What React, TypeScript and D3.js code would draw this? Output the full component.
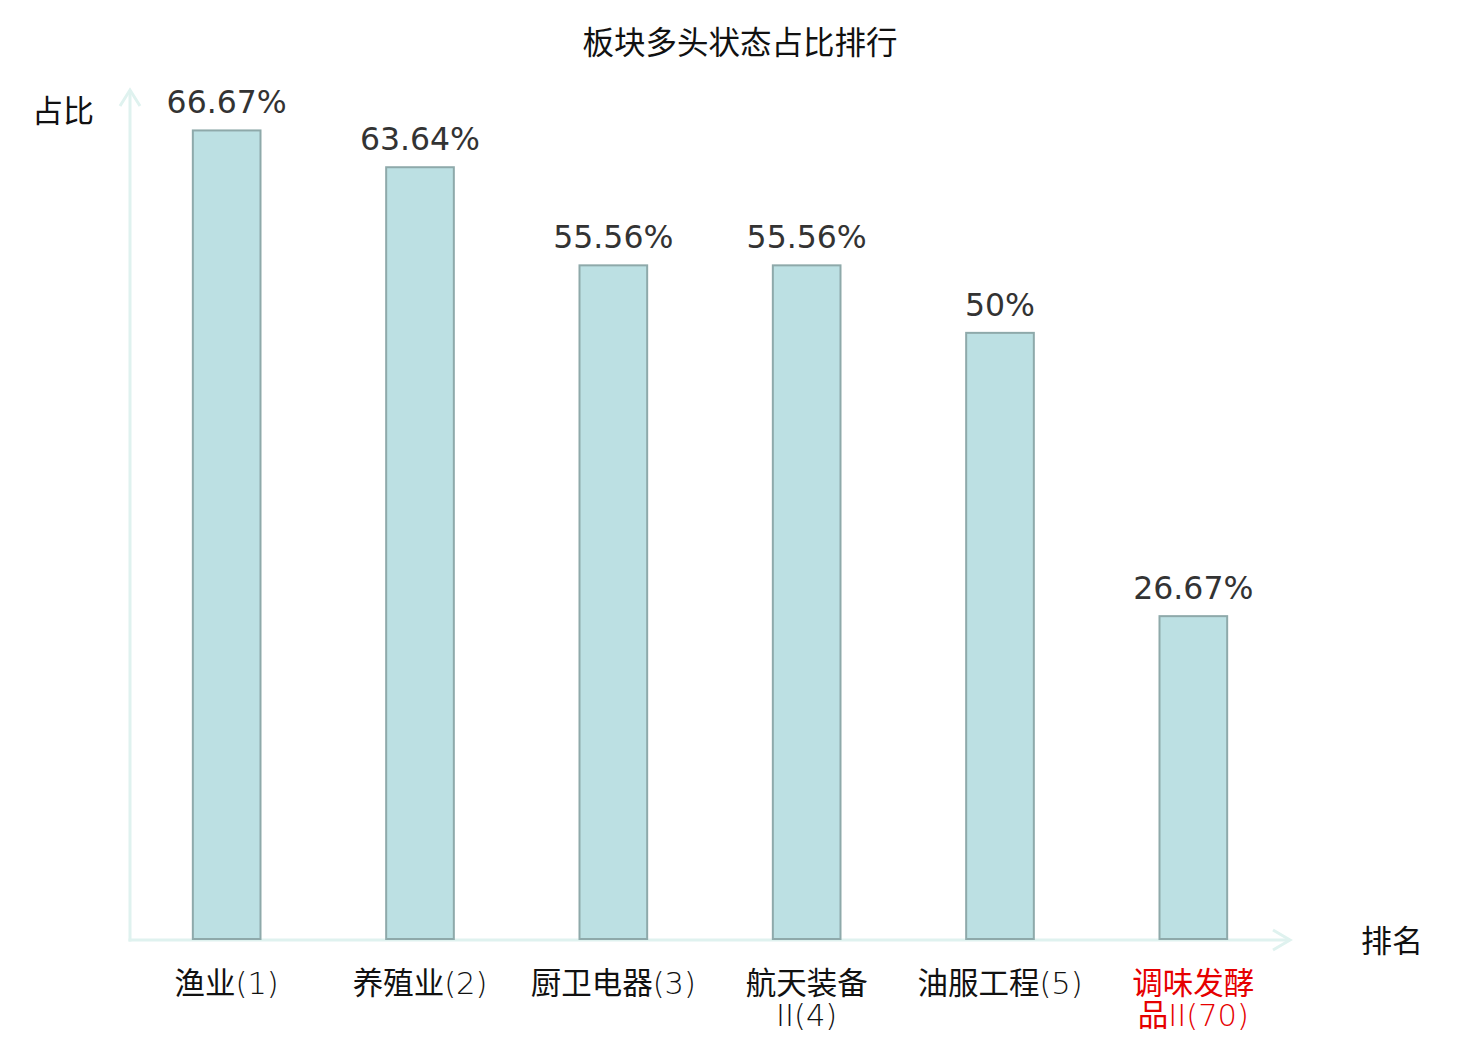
import React, { useEffect, useRef } from "react";
import * as d3 from "d3";

const TITLE = "板块多头状态占比排行";
const Y_NAME = "占比";
const X_NAME = "排名";
const categories = ["渔业(1)", "养殖业(2)", "厨卫电器(3)", "航天装备II(4)", "油服工程(5)", "调味发酵品II(70)"];
const labelLines = [["渔业(1)"], ["养殖业(2)"], ["厨卫电器(3)"], ["航天装备", "II(4)"], ["油服工程(5)"], ["调味发酵", "品II(70)"]];
const values = [66.67, 63.64, 55.56, 55.56, 50, 26.67];
const valueLabels = ["66.67%", "63.64%", "55.56%", "55.56%", "50%", "26.67%"];
const highlighted = [false, false, false, false, false, true];
const yDomain = [0, 70];

const W = 1480;
const H = 1040;
const CJK = "'Noto Sans CJK SC', 'Noto Sans', sans-serif";
const LAB_FONT = "'DejaVu Sans', 'Noto Sans CJK SC', sans-serif";
const VAL_FONT = "'DejaVu Sans', sans-serif";

function runs(s: string): { t: string; cjk: boolean }[] {
  const out: { t: string; cjk: boolean }[] = [];
  for (const ch of Array.from(s)) {
    const cjk = /[\u3000-\u9fff\uff00-\uffef]/.test(ch);
    const last = out[out.length - 1];
    if (last && last.cjk === cjk) last.t += ch;
    else out.push({ t: ch, cjk });
  }
  return out;
}

export default function App() {
  const ref = useRef<SVGSVGElement>(null);
  useEffect(() => {
    const svg = d3.select(ref.current!);
    svg.selectAll("*").remove();
    const x0 = 130, x1 = 1290, yBase = 940, yTop = 90;
    const x = d3.scaleBand<string>().domain(categories).range([x0, x1]).paddingInner(0.65).paddingOuter(0.325);
    const y = d3.scaleLinear().domain(yDomain).range([yBase, yTop]);
    const axisColor = "#dff2ef";

    svg.append("text").attr("x", 740).attr("y", 54).attr("text-anchor", "middle")
      .attr("font-family", CJK).attr("font-size", 31.5).attr("fill", "#111").text(TITLE);

    // axes
    const g = svg.append("g");
    g.append("line").attr("x1", x0).attr("x2", x0).attr("y1", yBase + 1.5).attr("y2", yTop)
      .attr("stroke", axisColor).attr("stroke-width", 3);
    g.append("polyline").attr("points", `${x0 - 10},${yTop + 16} ${x0},${yTop} ${x0 + 10},${yTop + 16}`)
      .attr("fill", "none").attr("stroke", axisColor).attr("stroke-width", 3);
    g.append("line").attr("x1", x0 - 1.5).attr("x2", x1).attr("y1", yBase).attr("y2", yBase)
      .attr("stroke", axisColor).attr("stroke-width", 3);
    g.append("polyline").attr("points", `${x1 - 17},${yBase - 10} ${x1},${yBase} ${x1 - 17},${yBase + 10}`)
      .attr("fill", "none").attr("stroke", axisColor).attr("stroke-width", 3);

    svg.append("text").attr("x", 63).attr("y", 122).attr("text-anchor", "middle")
      .attr("font-family", CJK).attr("font-size", 31).attr("fill", "#111").text(Y_NAME);
    svg.append("text").attr("x", 1392).attr("y", 952).attr("text-anchor", "middle")
      .attr("font-family", CJK).attr("font-size", 31).attr("fill", "#111").text(X_NAME);

    // bars
    svg.append("g").selectAll("rect").data(values).join("rect")
      .attr("x", (_, i) => x(categories[i])!)
      .attr("y", (d) => y(d))
      .attr("width", x.bandwidth())
      .attr("height", (d) => yBase - y(d) - 1)
      .attr("fill", "#bce0e3").attr("stroke", "#8ea9aa").attr("stroke-width", 2);

    svg.append("g").selectAll("text").data(values).join("text")
      .attr("x", (_, i) => x(categories[i])! + x.bandwidth() / 2)
      .attr("y", (d) => y(d) - 17)
      .attr("text-anchor", "middle").attr("font-family", VAL_FONT).attr("font-size", 31.5)
      .attr("fill", "#333").text((_, i) => valueLabels[i]);

    // x labels
    const lg = svg.append("g");
    categories.forEach((c, i) => {
      const t = lg.append("text").attr("text-anchor", "middle").attr("font-family", LAB_FONT)
        .attr("font-size", 30.5).attr("fill", highlighted[i] ? "#e60000" : "#111");
      labelLines[i].forEach((l, j) => {
        runs(l).forEach((r, k) => {
          const sp = t.append("tspan").attr("font-family", r.cjk ? CJK : LAB_FONT)
            .attr("font-weight", r.cjk ? 400 : 200).text(r.t);
          if (k === 0) sp.attr("x", x(c)! + x.bandwidth() / 2).attr("y", 994 + j * 32);
        });
      });
    });
  }, []);
  return <svg ref={ref} width={W} height={H} style={{ position: "absolute", left: 0, top: 0, background: "#fff" }} />;
}
